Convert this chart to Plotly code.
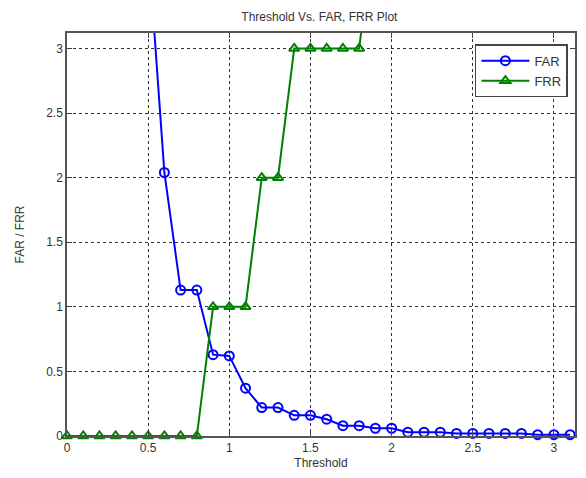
import plotly.graph_objects as go

threshold = [round(0.1 * i, 1) for i in range(32)]
far = [100, 60, 35, 18, 8, 3.8, 2.04, 1.13, 1.13, 0.63, 0.62, 0.37, 0.22, 0.22, 0.16, 0.16,
       0.13, 0.08, 0.08, 0.06, 0.06, 0.03, 0.03, 0.03, 0.02, 0.02, 0.02, 0.02, 0.02, 0.01, 0.01, 0.01]
frr = [0, 0, 0, 0, 0, 0, 0, 0, 0, 1, 1, 1, 2, 2, 3, 3,
       3, 3, 3, 4, 5, 6, 7, 8, 9, 10, 11, 12, 13, 14, 15, 16]

fig = go.Figure()
fig.add_trace(go.Scatter(x=threshold, y=far, name="FAR", mode="lines+markers",
                         line=dict(color="#0000ff", width=2),
                         marker=dict(symbol="circle-open", size=9, color="#0000ff", line=dict(width=2)),
                         cliponaxis=False))
fig.add_trace(go.Scatter(x=threshold, y=frr, name="FRR", mode="lines+markers",
                         line=dict(color="#008000", width=2),
                         marker=dict(symbol="triangle-up-open", size=9, color="#008000", line=dict(width=2)),
                         cliponaxis=False))

axis_common = dict(showline=True, linecolor="#555555", linewidth=1.5, mirror="allticks",
                   ticks="inside", ticklen=5, tickcolor="#444444",
                   showgrid=True, gridcolor="#333333", griddash="dot", gridwidth=1,
                   zeroline=False, tickfont=dict(family="Arial, Liberation Sans", size=12, color="#333333"),
                   title_font=dict(family="Arial, Liberation Sans", size=12, color="#333333"))

fig.update_xaxes(range=[0, 3.13], tickvals=[0, 0.5, 1, 1.5, 2, 2.5, 3],
                 ticktext=["0", "0.5", "1", "1.5", "2", "2.5", "3"],
                 title=dict(text="Threshold", standoff=4), **axis_common)
fig.update_yaxes(range=[0, 3.12], tickvals=[0, 0.5, 1, 1.5, 2, 2.5, 3],
                 ticktext=["0", "0.5", "1", "1.5", "2", "2.5", "3"],
                 title=dict(text="FAR / FRR", standoff=19), **axis_common)

fig.update_layout(
    width=586, height=478,
    margin=dict(l=67, r=9, t=33, b=42),
    paper_bgcolor="white", plot_bgcolor="white",
    title=dict(text="Threshold Vs. FAR, FRR Plot", x=0.545, xanchor="center", y=0.965, yanchor="middle",
               font=dict(family="Arial, Liberation Sans", size=12, color="#333333")),
    showlegend=True,
    legend=dict(x=0.986, y=0.972, xanchor="right", yanchor="top",
                bordercolor="#444444", borderwidth=1.5, bgcolor="white",
                font=dict(family="Arial, Liberation Sans", size=13, color="#333333"),
                itemwidth=48, tracegroupgap=0),
)

fig.write_html("out.html")
